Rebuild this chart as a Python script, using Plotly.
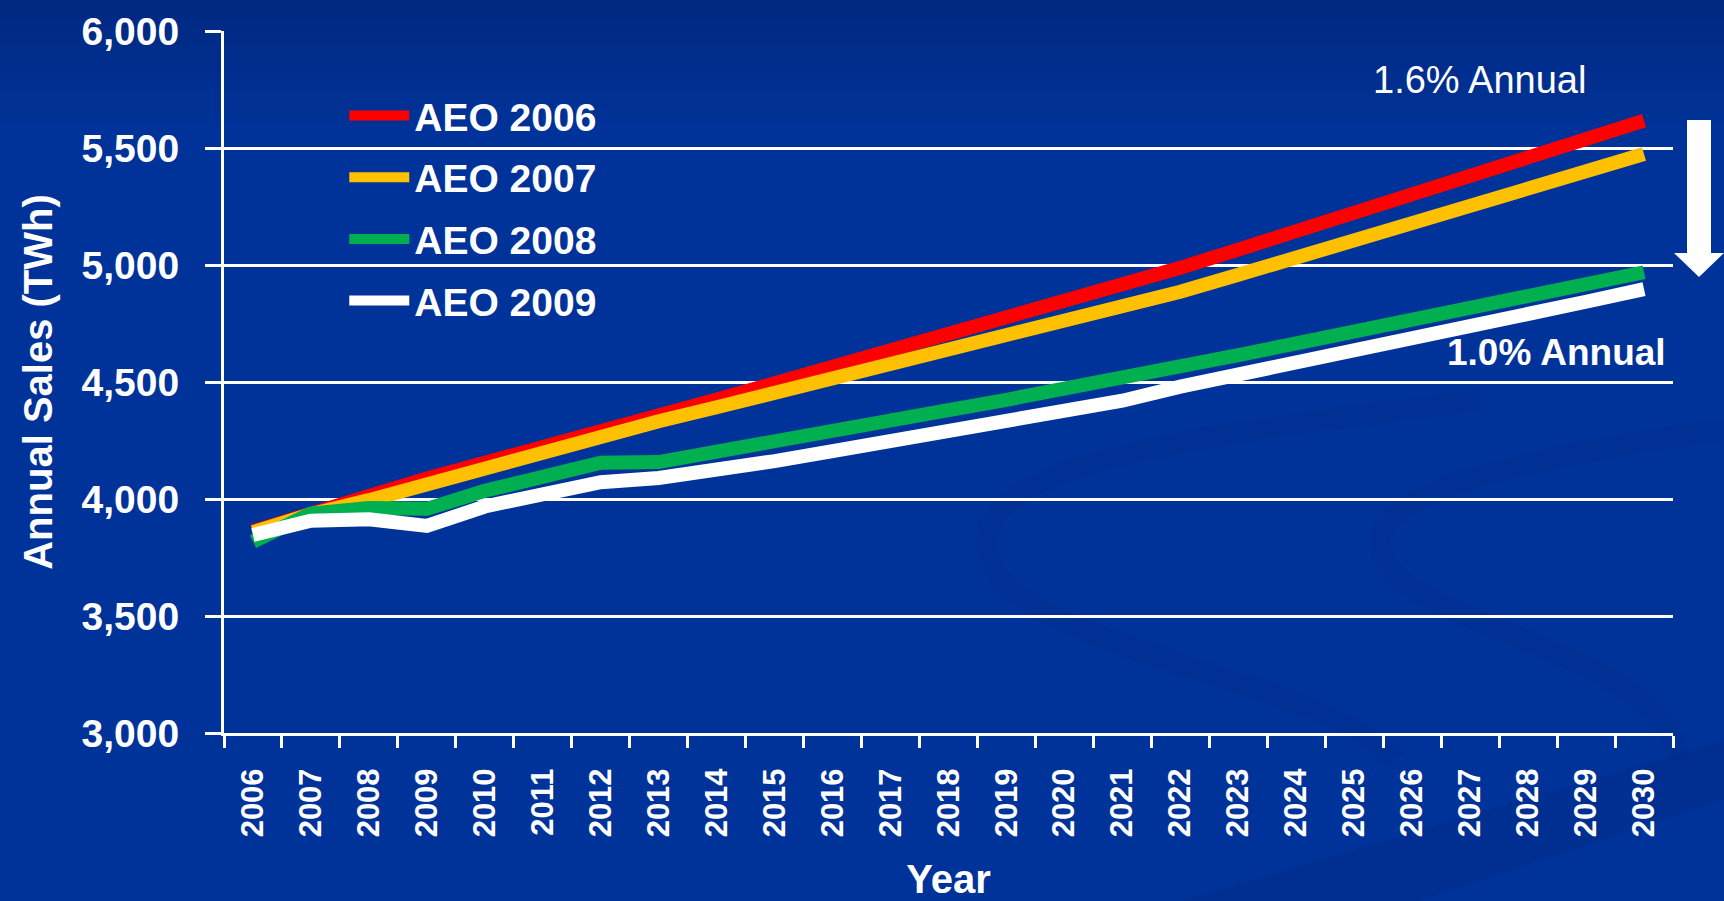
import plotly.graph_objects as go

years = [str(y) for y in range(2006, 2031)]
aeo2006 = [3862, 3942, 4020, 4088, 4155, 4220, 4282, 4352, 4425, 4495, 4564, 4634, 4703,
           4773, 4843, 4913, 4988, 5066, 5144, 5222, 5300, 5378, 5458, 5538, 5617]
aeo2007 = [3858, 3935, 3995, 4065, 4135, 4205, 4272, 4332, 4392, 4452, 4513, 4575, 4637,
           4699, 4761, 4823, 4886, 4958, 5032, 5106, 5180, 5254, 5328, 5401, 5474]
aeo2008 = [3818, 3938, 3962, 3958, 4035, 4095, 4155, 4158, 4205, 4248, 4292, 4336, 4380,
           4424, 4468, 4515, 4565, 4615, 4665, 4715, 4765, 4815, 4866, 4917, 4969]
aeo2009 = [3846, 3907, 3913, 3885, 3968, 4020, 4072, 4090, 4122, 4162, 4205, 4250, 4295,
           4335, 4370, 4420, 4480, 4530, 4582, 4633, 4686, 4738, 4790, 4843, 4897]

series_names = ["AEO 2006", "AEO 2007", "AEO 2008", "AEO 2009"]
series_colors = ["#FF0000", "#FFC000", "#00B050", "#FFFFFF"]
y_ticks = [3000, 3500, 4000, 4500, 5000, 5500, 6000]

FONT = "Liberation Sans Narrow, Arial Narrow, Liberation Sans, Arial, sans-serif"
BG = "#003399"

fig = go.Figure()
for name, vals, col in zip(series_names, [aeo2006, aeo2007, aeo2008, aeo2009], series_colors):
    fig.add_trace(go.Scatter(x=years, y=vals, name=name, mode="lines", legendgroup=name,
                             line=dict(color=col, width=14)))

W, H = 1724, 901
L, R, T, B = 224, 51, 31, 168
PW, PH = W - L - R, H - T - B


def px(xp):
    return (xp - L) / PW


def py(yp):
    return (H - B - yp) / PH


shapes = []
# darker band at the top of the background
for i in range(14):
    shapes.append(dict(type="rect", xref="paper", yref="paper", layer="below",
                       x0=px(0), x1=px(W), y0=py(i * 9 + 9), y1=py(i * 9),
                       fillcolor="rgba(0,20,80,%.3f)" % (0.32 * (1 - i / 14)), line_width=0))


# faint background swirls (decoration)
def bez(pts):
    s = "M {},{}".format(px(pts[0][0]), py(pts[0][1]))
    for k in range(1, len(pts), 3):
        s += " C {},{} {},{} {},{}".format(px(pts[k][0]), py(pts[k][1]),
                                           px(pts[k + 1][0]), py(pts[k + 1][1]),
                                           px(pts[k + 2][0]), py(pts[k + 2][1]))
    return s


swirl1 = bez([(1480, 400), (1150, 440), (960, 470), (990, 560), (1020, 650), (1330, 680), (1395, 760)])
swirl2 = bez([(1724, 430), (1500, 460), (1350, 500), (1385, 560), (1420, 630), (1660, 650), (1680, 760)])
for sp in (swirl1, swirl2):
    shapes.append(dict(type="path", xref="paper", yref="paper", layer="below", path=sp,
                       line=dict(color="rgba(0,25,100,0.10)", width=22)))
band = "M {},{} L {},{} L {},{} L {},{} Z".format(px(1180), py(901), px(1724), py(740),
                                                   px(1724), py(800), px(1420), py(901))
shapes.append(dict(type="path", xref="paper", yref="paper", layer="below", path=band,
                   fillcolor="rgba(0,25,100,0.12)", line_width=0))

# arrow (decoration)
arrow = "M {a},{b} L {c},{b} L {c},{d} L {e},{d} L {f},{g} L {h},{d} L {a},{d} Z".format(
    a=px(1687), b=py(120), c=px(1711), d=py(253), e=px(1724), f=px(1699), g=py(277), h=px(1674))
shapes.append(dict(type="path", xref="paper", yref="paper", path=arrow,
                   fillcolor="white", line_width=0))

fig.update_layout(
    width=W, height=H,
    margin=dict(l=L, r=R, t=T, b=B, autoexpand=False),
    paper_bgcolor=BG, plot_bgcolor="rgba(0,0,0,0)",
    showlegend=True,
    legend=dict(x=0.083, y=0.925, xanchor="left", yanchor="top",
                bgcolor="rgba(0,0,0,0)",
                font=dict(family=FONT, size=39, color="white", weight="bold"),
                itemwidth=60, tracegroupgap=8),
    xaxis=dict(type="category", range=[-0.5, len(years) - 0.5], automargin=False,
               showgrid=False, zeroline=False,
               showline=True, linecolor="white", linewidth=3,
               ticks="outside", ticklen=12, tickwidth=3, tickcolor="white", tickson="boundaries",
               tickangle=-90, tickfont=dict(family=FONT, size=31, color="white", weight="bold"),
               ticklabelstandoff=20,
               title=dict(text="Year", font=dict(family=FONT, size=40, color="white", weight="bold"),
                          standoff=31)),
    yaxis=dict(range=[3000, 6000], automargin=False, tickvals=y_ticks, tickformat=",d",
               zeroline=False,
               showgrid=True, gridcolor="white", gridwidth=3,
               showline=True, linecolor="white", linewidth=3,
               ticks="outside", ticklen=16, tickwidth=3, tickcolor="white",
               ticklabelstandoff=18,
               tickfont=dict(family=FONT, size=39, color="white", weight="bold"),
               title=dict(text="Annual Sales (TWh)",
                          font=dict(family=FONT, size=40, color="white", weight="bold"),
                          standoff=17)),
    shapes=shapes,
    annotations=[
        dict(text="1.6% Annual", xref="paper", yref="paper", x=px(1588), y=py(80),
             xanchor="right", yanchor="middle", showarrow=False,
             font=dict(family=FONT, size=38, color="white")),
        dict(text="1.0% Annual", xref="paper", yref="paper", x=px(1668), y=py(352),
             xanchor="right", yanchor="middle", showarrow=False,
             font=dict(family=FONT, size=37, color="white", weight="bold")),
    ],
)

fig.write_html("out.html")
